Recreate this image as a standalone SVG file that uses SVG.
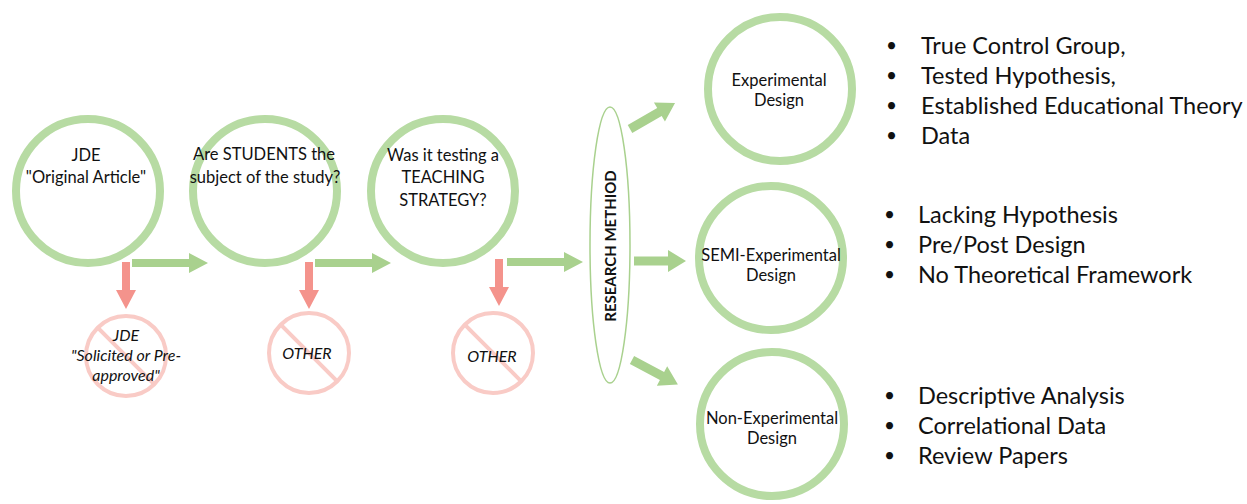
<svg xmlns="http://www.w3.org/2000/svg" xmlns:xlink="http://www.w3.org/1999/xlink" width="1247" height="504" viewBox="0 0 1247 504">
  <style>
    .gc { fill: none; stroke: #b7dba3; stroke-width: 8; }
    .rc { fill: none; stroke: #f9cbc6; stroke-width: 4; }
    .ga { fill: #a9d18e; }
    .ra { fill: #f4938c; }
    .t { font-family: Lato, "Open Sans", "Liberation Sans", sans-serif; font-size: 16.5px; fill: #111; text-anchor: middle; }
    .ti { font-family: Lato, "Open Sans", "Liberation Sans", sans-serif; font-size: 16px; font-style: italic; fill: #111; text-anchor: middle; }
    .tb { font-family: Lato, "Open Sans", "Liberation Sans", sans-serif; font-size: 15px; font-weight: bold; fill: #111; text-anchor: middle; }
    .bl { font-family: Lato, "Open Sans", "Liberation Sans", sans-serif; font-size: 23.5px; fill: #111; }
    .bu { font-family: Lato, "Open Sans", "Liberation Sans", sans-serif; font-size: 19px; fill: #111; }
  </style>
  <defs>
    <path id="garrow" d="M0,-4 H57 V-10 L76,0 L57,10 V4 H0 Z"/>
    <path id="gshort" d="M0,-4.5 H34 V-11 L52,0 L34,11 V4.5 H0 Z"/>
    <path id="rarrow" d="M-4,0 V28 H-10 L0,47 L10,28 H4 V0 Z"/>
  </defs>

  <g id="connectors">
    <use xlink:href="#garrow" class="ga" transform="translate(132,263)"/>
    <use xlink:href="#garrow" class="ga" transform="translate(315,263)"/>
    <use xlink:href="#garrow" class="ga" transform="translate(507,262)"/>
    <use xlink:href="#rarrow" class="ra" transform="translate(126,262)"/>
    <use xlink:href="#rarrow" class="ra" transform="translate(309,262)"/>
    <use xlink:href="#rarrow" class="ra" transform="translate(499,259)"/>
    <use xlink:href="#gshort" class="ga" transform="translate(630,129) rotate(-30)"/>
    <use xlink:href="#gshort" class="ga" transform="translate(634,261)"/>
    <use xlink:href="#gshort" class="ga" transform="translate(632,360) rotate(28)"/>
  </g>

  <g id="node-jde">
    <circle class="gc" cx="88" cy="191" r="72"/>
    <text class="t" x="86" y="161">JDE</text>
    <text class="t" x="86" y="183">"Original Article"</text>
  </g>
  <g id="node-students">
    <circle class="gc" cx="265" cy="191" r="72"/>
    <text class="t" x="264" y="160">Are STUDENTS the</text>
    <text class="t" x="265" y="183">subject of the study?</text>
  </g>
  <g id="node-teaching">
    <circle class="gc" cx="443" cy="191" r="72"/>
    <text class="t" x="443" y="161">Was it testing a</text>
    <text class="t" x="443" y="183">TEACHING</text>
    <text class="t" x="443" y="206">STRATEGY?</text>
  </g>

  <g id="node-solicited">
    <circle class="rc" cx="126" cy="356" r="40"/>
    <line class="rc" x1="97.7" y1="327.7" x2="154.3" y2="384.3"/>
    <text class="ti" x="126" y="341">JDE</text>
    <text class="ti" x="126" y="361">"Solicited or Pre-</text>
    <text class="ti" x="126" y="381">approved"</text>
  </g>
  <g id="node-other1">
    <circle class="rc" cx="309" cy="353" r="40"/>
    <line class="rc" x1="280.7" y1="324.7" x2="337.3" y2="381.3"/>
    <text class="ti" x="307" y="359">OTHER</text>
  </g>
  <g id="node-other2">
    <circle class="rc" cx="493" cy="353" r="40"/>
    <line class="rc" x1="464.7" y1="324.7" x2="521.3" y2="381.3"/>
    <text class="ti" x="492" y="362">OTHER</text>
  </g>

  <g id="node-method">
    <ellipse cx="610" cy="245" rx="20" ry="138" fill="none" stroke="#a9d18e" stroke-width="1.5"/>
    <text class="tb" transform="translate(615.5,246) rotate(-90)" x="0" y="0">RESEARCH METHIOD</text>
  </g>

  <g id="node-experimental">
    <circle class="gc" cx="780" cy="89" r="72"/>
    <text class="t" x="779" y="86">Experimental</text>
    <text class="t" x="779" y="106">Design</text>
  </g>
  <g id="node-semi">
    <circle class="gc" cx="771" cy="258" r="72"/>
    <text class="t" x="771" y="261">SEMI-Experimental</text>
    <text class="t" x="771" y="281">Design</text>
  </g>
  <g id="node-non">
    <circle class="gc" cx="772" cy="424" r="72"/>
    <text class="t" x="772" y="424">Non-Experimental</text>
    <text class="t" x="772" y="444">Design</text>
  </g>

  <g id="list-experimental" class="bl">
    <text class="bu" x="886" y="52">•</text><text x="921" y="54">True Control Group,</text>
    <text class="bu" x="886" y="82">•</text><text x="921" y="84">Tested Hypothesis,</text>
    <text class="bu" x="886" y="112">•</text><text x="921" y="114">Established Educational Theory</text>
    <text class="bu" x="886" y="142">•</text><text x="921" y="144">Data</text>
  </g>
  <g id="list-semi" class="bl">
    <text class="bu" x="884" y="221">•</text><text x="918" y="223">Lacking Hypothesis</text>
    <text class="bu" x="884" y="251">•</text><text x="918" y="253">Pre/Post Design</text>
    <text class="bu" x="884" y="281">•</text><text x="918" y="283">No Theoretical Framework</text>
  </g>
  <g id="list-non" class="bl">
    <text class="bu" x="884" y="402">•</text><text x="918" y="404">Descriptive Analysis</text>
    <text class="bu" x="884" y="432">•</text><text x="918" y="434">Correlational Data</text>
    <text class="bu" x="884" y="462">•</text><text x="918" y="464">Review Papers</text>
  </g>
</svg>
